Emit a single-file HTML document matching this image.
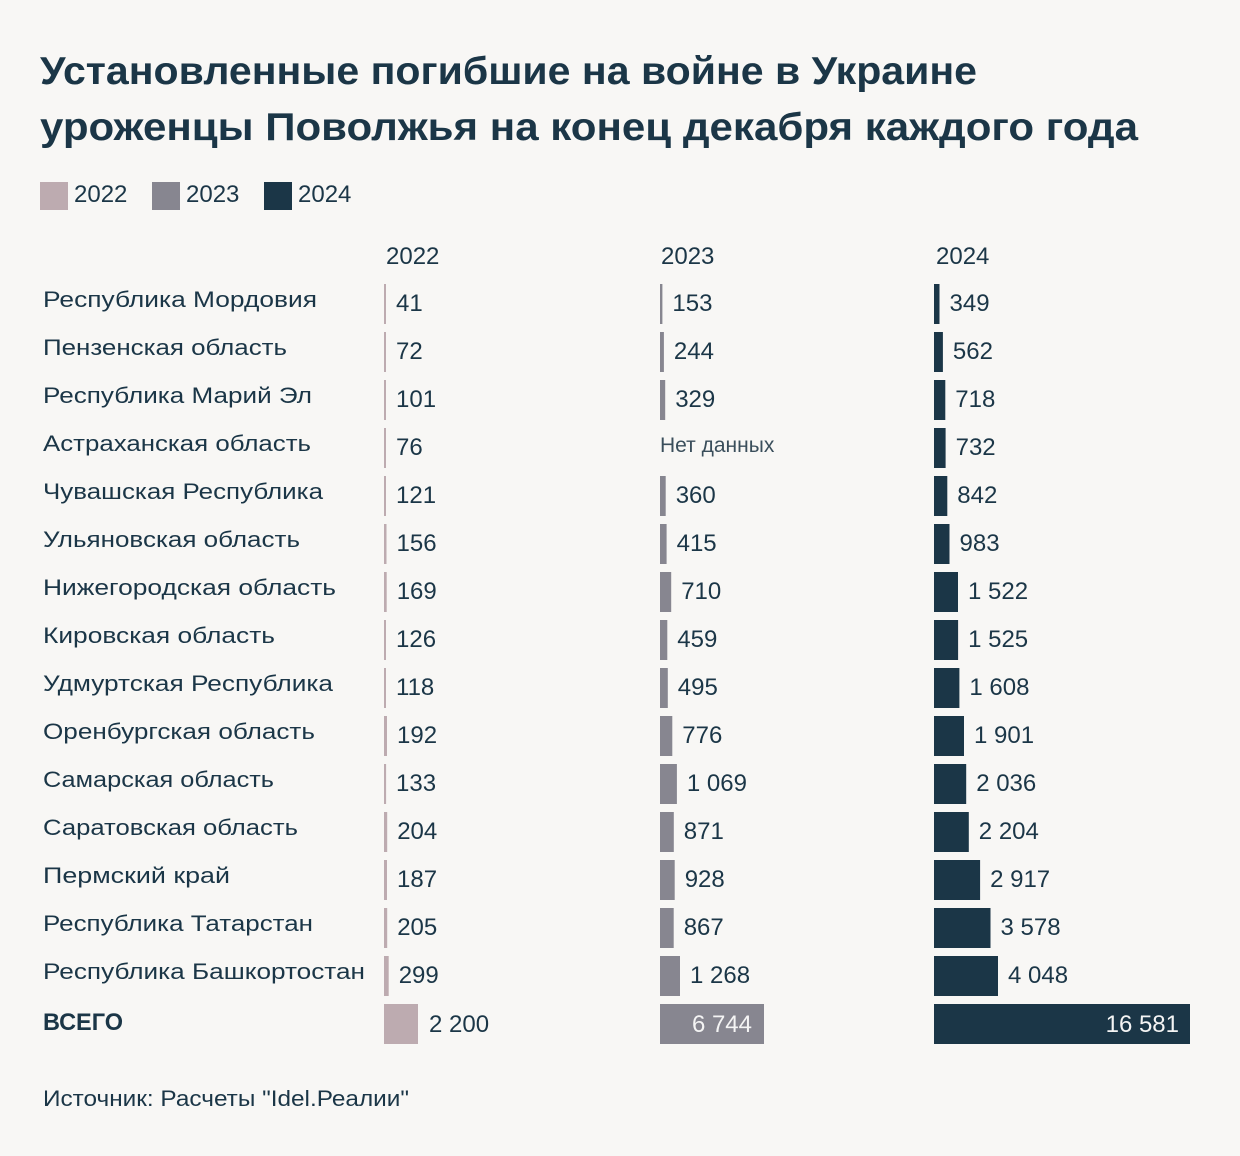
<!DOCTYPE html>
<html><head><meta charset="utf-8"><style>
html,body{margin:0;padding:0;background:#f8f7f5;}
svg{display:block;}
text{font-family:"Liberation Sans","DejaVu Sans",sans-serif;fill:#1b3647;}
.t{font-weight:bold;font-size:39px;}
.lg{font-size:24px;}
.lb{font-size:22px;}
.n{font-size:24px;}
.w{fill:#f4f4f4;}
</style></head><body>
<svg width="1240" height="1156" viewBox="0 0 1240 1156" xmlns="http://www.w3.org/2000/svg">
<rect x="0" y="0" width="1240" height="1156" fill="#f8f7f5"/>
<text class="t" x="40" y="84" textLength="937" lengthAdjust="spacingAndGlyphs">Установленные погибшие на войне в Украине</text>
<text class="t" x="40" y="140" textLength="1098" lengthAdjust="spacingAndGlyphs">уроженцы Поволжья на конец декабря каждого года</text>

<rect x="40" y="182" width="28" height="28" fill="#bdabb0"/>
<text class="lg" x="74" y="202">2022</text>
<rect x="152" y="182" width="28" height="28" fill="#878690"/>
<text class="lg" x="186" y="202">2023</text>
<rect x="264" y="182" width="28" height="28" fill="#1b3647"/>
<text class="lg" x="298" y="202">2024</text>

<text class="lg" x="386" y="264">2022</text>
<text class="lg" x="661" y="264">2023</text>
<text class="lg" x="936" y="264">2024</text>

<!-- labels -->
<text class="lb" x="43" y="307" textLength="274" lengthAdjust="spacingAndGlyphs">Республика Мордовия</text>
<text class="lb" x="43" y="355" textLength="244" lengthAdjust="spacingAndGlyphs">Пензенская область</text>
<text class="lb" x="43" y="403" textLength="269" lengthAdjust="spacingAndGlyphs">Республика Марий Эл</text>
<text class="lb" x="43" y="451" textLength="268" lengthAdjust="spacingAndGlyphs">Астраханская область</text>
<text class="lb" x="43" y="499" textLength="280" lengthAdjust="spacingAndGlyphs">Чувашская Республика</text>
<text class="lb" x="43" y="547" textLength="257" lengthAdjust="spacingAndGlyphs">Ульяновская область</text>
<text class="lb" x="43" y="595" textLength="293" lengthAdjust="spacingAndGlyphs">Нижегородская область</text>
<text class="lb" x="43" y="643" textLength="232" lengthAdjust="spacingAndGlyphs">Кировская область</text>
<text class="lb" x="43" y="691" textLength="290" lengthAdjust="spacingAndGlyphs">Удмуртская Республика</text>
<text class="lb" x="43" y="739" textLength="272" lengthAdjust="spacingAndGlyphs">Оренбургская область</text>
<text class="lb" x="43" y="787" textLength="231" lengthAdjust="spacingAndGlyphs">Самарская область</text>
<text class="lb" x="43" y="835" textLength="255" lengthAdjust="spacingAndGlyphs">Саратовская область</text>
<text class="lb" x="43" y="883" textLength="187" lengthAdjust="spacingAndGlyphs">Пермский край</text>
<text class="lb" x="43" y="931" textLength="270" lengthAdjust="spacingAndGlyphs">Республика Татарстан</text>
<text class="lb" x="43" y="979" textLength="322" lengthAdjust="spacingAndGlyphs">Республика Башкортостан</text>
<text x="43" y="1030" font-size="24" font-weight="bold" textLength="80" lengthAdjust="spacingAndGlyphs">ВСЕГО</text>

<!-- 2022 -->
<g fill="#bdabb0">
<rect x="384" y="284" width="2" height="40"/>
<rect x="384" y="332" width="2" height="40"/>
<rect x="384" y="380" width="2" height="40"/>
<rect x="384" y="428" width="2" height="40"/>
<rect x="384" y="476" width="2" height="40"/>
<rect x="384" y="524" width="2.5" height="40"/>
<rect x="384" y="572" width="2.7" height="40"/>
<rect x="384" y="620" width="2" height="40"/>
<rect x="384" y="668" width="2" height="40"/>
<rect x="384" y="716" width="3" height="40"/>
<rect x="384" y="764" width="2.1" height="40"/>
<rect x="384" y="812" width="3.2" height="40"/>
<rect x="384" y="860" width="3" height="40"/>
<rect x="384" y="908" width="3.2" height="40"/>
<rect x="384" y="956" width="4.7" height="40"/>
<rect x="384" y="1004" width="34" height="40"/>
</g>
<text class="n" x="396" y="311">41</text>
<text class="n" x="396" y="359">72</text>
<text class="n" x="396" y="407">101</text>
<text class="n" x="396" y="455">76</text>
<text class="n" x="396" y="503">121</text>
<text class="n" x="396.5" y="551">156</text>
<text class="n" x="396.7" y="599">169</text>
<text class="n" x="396" y="647">126</text>
<text class="n" x="396" y="695">118</text>
<text class="n" x="397" y="743">192</text>
<text class="n" x="396" y="791">133</text>
<text class="n" x="397.2" y="839">204</text>
<text class="n" x="397" y="887">187</text>
<text class="n" x="397.2" y="935">205</text>
<text class="n" x="398.7" y="983">299</text>
<text class="n" x="429" y="1032">2 200</text>

<!-- 2023 -->
<g fill="#878690">
<rect x="660" y="284" width="2.4" height="40"/>
<rect x="660" y="332" width="3.9" height="40"/>
<rect x="660" y="380" width="5.2" height="40"/>
<rect x="660" y="476" width="5.7" height="40"/>
<rect x="660" y="524" width="6.6" height="40"/>
<rect x="660" y="572" width="11.2" height="40"/>
<rect x="660" y="620" width="7.3" height="40"/>
<rect x="660" y="668" width="7.8" height="40"/>
<rect x="660" y="716" width="12.3" height="40"/>
<rect x="660" y="764" width="16.9" height="40"/>
<rect x="660" y="812" width="13.8" height="40"/>
<rect x="660" y="860" width="14.7" height="40"/>
<rect x="660" y="908" width="13.7" height="40"/>
<rect x="660" y="956" width="20" height="40"/>
<rect x="660" y="1004" width="104" height="40"/>
</g>
<text class="n" x="672.4" y="311">153</text>
<text class="n" x="673.9" y="359">244</text>
<text class="n" x="675.2" y="407">329</text>
<text x="660" y="452" font-size="21" fill="#3a4e5b" style="fill:#3a4e5b">Нет данных</text>
<text class="n" x="675.7" y="503">360</text>
<text class="n" x="676.6" y="551">415</text>
<text class="n" x="681.2" y="599">710</text>
<text class="n" x="677.3" y="647">459</text>
<text class="n" x="677.8" y="695">495</text>
<text class="n" x="682.3" y="743">776</text>
<text class="n" x="686.9" y="791">1 069</text>
<text class="n" x="683.8" y="839">871</text>
<text class="n" x="684.7" y="887">928</text>
<text class="n" x="683.7" y="935">867</text>
<text class="n" x="690" y="983">1 268</text>
<text class="n w" x="752" y="1032" text-anchor="end">6 744</text>

<!-- 2024 -->
<g fill="#1b3647">
<rect x="934" y="284" width="5.5" height="40"/>
<rect x="934" y="332" width="8.9" height="40"/>
<rect x="934" y="380" width="11.3" height="40"/>
<rect x="934" y="428" width="11.6" height="40"/>
<rect x="934" y="476" width="13.3" height="40"/>
<rect x="934" y="524" width="15.5" height="40"/>
<rect x="934" y="572" width="24" height="40"/>
<rect x="934" y="620" width="24.1" height="40"/>
<rect x="934" y="668" width="25.4" height="40"/>
<rect x="934" y="716" width="30" height="40"/>
<rect x="934" y="764" width="32.2" height="40"/>
<rect x="934" y="812" width="34.8" height="40"/>
<rect x="934" y="860" width="46.1" height="40"/>
<rect x="934" y="908" width="56.5" height="40"/>
<rect x="934" y="956" width="64" height="40"/>
<rect x="934" y="1004" width="256" height="40"/>
</g>
<text class="n" x="949.5" y="311">349</text>
<text class="n" x="952.9" y="359">562</text>
<text class="n" x="955.3" y="407">718</text>
<text class="n" x="955.6" y="455">732</text>
<text class="n" x="957.3" y="503">842</text>
<text class="n" x="959.5" y="551">983</text>
<text class="n" x="968" y="599">1 522</text>
<text class="n" x="968.1" y="647">1 525</text>
<text class="n" x="969.4" y="695">1 608</text>
<text class="n" x="974" y="743">1 901</text>
<text class="n" x="976.2" y="791">2 036</text>
<text class="n" x="978.8" y="839">2 204</text>
<text class="n" x="990.1" y="887">2 917</text>
<text class="n" x="1000.5" y="935">3 578</text>
<text class="n" x="1008" y="983">4 048</text>
<text class="n w" x="1179" y="1032" text-anchor="end">16 581</text>

<text class="lb" x="43" y="1106" textLength="366" lengthAdjust="spacingAndGlyphs">Источник: Расчеты "Idel.Реалии"</text>
</svg>
</body></html>
